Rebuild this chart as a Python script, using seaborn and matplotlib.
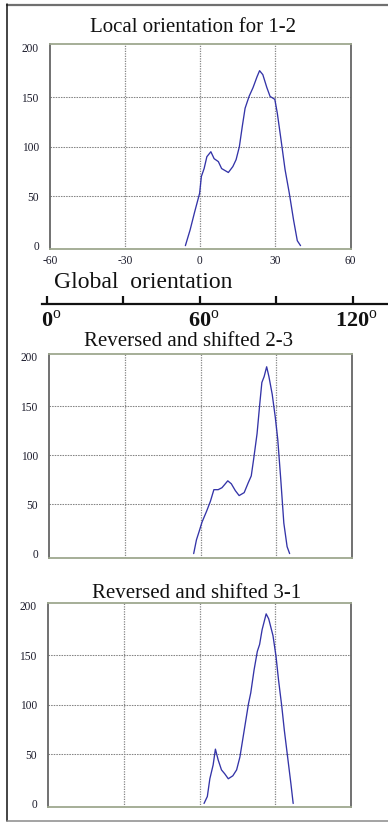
import matplotlib
matplotlib.use("Agg")
import matplotlib.pyplot as plt
from matplotlib.lines import Line2D
import seaborn as sns
import pandas as pd

# Local orientation histogram for pair 1-2 (degrees, counts)
angle_12 = [-5.8, -3.9, -2.1, -0.1, 0.6, 1.7, 2.8, 4.4, 5.7, 7.4, 8.7, 11.4, 13.2,
            14.5, 15.8, 17.0, 18.1, 19.7, 21.3, 22.9, 23.9, 25.2, 26.8, 28.1, 30.0,
            31.0, 32.6, 34.1, 35.8, 37.5, 39.0, 40.3]
count_12 = [0, 16, 34, 53, 70, 78, 90, 95, 88, 85, 78, 74, 80,
            87, 100, 121, 139, 151, 160, 171, 177, 173, 160, 151, 148,
            134, 105, 77, 53, 26, 5, 0]

# Reversed and shifted pair 2-3
angle_23 = [-2.7, -1.6, -0.6, 0.6, 2.4, 3.9, 5.3, 7.0, 8.5, 9.5, 10.8, 12.2, 13.8,
            15.3, 17.3, 18.9, 20.1, 21.1, 22.4, 23.5, 24.3, 25.2, 26.2, 27.1, 28.4,
            29.6, 30.6, 31.8, 33.0, 34.3, 35.3]
count_23 = [0, 14, 22, 32, 43, 53, 65, 65, 67, 70, 74, 71, 64,
            59, 62, 72, 79, 97, 122, 153, 174, 180, 190, 180, 162,
            139, 116, 75, 31, 7, 0]

# Reversed and shifted pair 3-1
angle_31 = [1.8, 3.1, 4.1, 5.4, 6.3, 7.4, 8.7, 10.0, 11.4, 13.2, 14.7, 16.0, 17.7,
            19.4, 20.3, 21.6, 22.9, 23.8, 24.8, 26.4, 27.4, 29.1, 30.3, 31.3, 32.6,
            33.6, 34.9, 36.2, 37.1]
count_31 = [0, 7, 25, 39, 55, 44, 34, 30, 25, 28, 34, 47, 74,
            101, 112, 135, 154, 161, 176, 192, 187, 170, 149, 125, 98,
            74, 47, 20, 0]

titles = ["Local orientation for 1-2", "Reversed and shifted 2-3", "Reversed and shifted 3-1"]
x_ticks = [-60, -30, 0, 30, 60]
y_ticks = [0, 50, 100, 150, 200]
global_ticks = [0, 30, 60, 90, 120]
global_labels = ["0", "60", "120"]

sns.set_style("white")
plt.rcParams["font.family"] = ["Liberation Serif", "DejaVu Serif"]
plt.rcParams["mathtext.fontset"] = "custom"
plt.rcParams["mathtext.rm"] = "Liberation Serif"
plt.rcParams["mathtext.bf"] = "Liberation Serif:bold"
plt.rcParams["axes.unicode_minus"] = False

W, H = 388, 823
fig = plt.figure(figsize=(W / 100, H / 100), dpi=100)
fig.patch.set_facecolor("white")


def px_box(left, top, right, bottom):
    return [left / W, 1 - bottom / H, (right - left) / W, (bottom - top) / H]


line_color = "#3434a8"
text_color = "#1c1c2c"

panels = [
    dict(box=(50, 44, 351, 249), xlim=(-59.5, 60.5), ylim=(-3.4, 204),
         x=angle_12, y=count_12, xlabels=True, title_xy=(193, 31.5)),
    dict(box=(49, 354, 352, 558), xlim=(-58.2, 58.3), ylim=(-4.5, 203),
         x=angle_23, y=count_23, xlabels=False, title_xy=(189, 346.5)),
    dict(box=(48, 603, 351, 807), xlim=(-58.9, 59.1), ylim=(-3.6, 203),
         x=angle_31, y=count_31, xlabels=False, title_xy=(196.5, 597.5)),
]

for p, title in zip(panels, titles):
    ax = fig.add_axes(px_box(*p["box"]))
    df = pd.DataFrame({"angle": p["x"], "count": p["y"]})
    sns.lineplot(data=df, x="angle", y="count", ax=ax, color=line_color,
                 linewidth=0.95, sort=False)
    ax.set_xlim(*p["xlim"])
    ax.set_ylim(*p["ylim"])
    ax.set_xticks(x_ticks)
    ax.set_yticks(y_ticks)
    ax.set_xlabel("")
    ax.set_ylabel("")
    ax.tick_params(length=0, labelsize=8.3, labelcolor=text_color)
    ax.tick_params(axis="y", pad=8)
    ax.tick_params(axis="x", pad=4.5)
    if not p["xlabels"]:
        ax.set_xticklabels([])
    for v in [-30, 0, 30]:
        ax.axvline(v, color="#858585", linestyle=(0, (1, 1)), linewidth=0.9, zorder=0)
    for v in [50, 100, 150]:
        ax.axhline(v, color="#858585", linestyle=(0, (1.5, 1)), linewidth=0.75, zorder=0)
    for side in ("left", "right"):
        ax.spines[side].set_color("#666666")
        ax.spines[side].set_linewidth(1.3)
    for side in ("top", "bottom"):
        ax.spines[side].set_color("#9ea88f")
        ax.spines[side].set_linewidth(1.3)
    tx, ty = p["title_xy"]
    fig.text(tx / W, 1 - ty / H, title, ha="center", va="baseline",
             fontsize=15, color="#111111")

# Global orientation scale between the first and second panels
gax = fig.add_axes([42 / W, 1 - 304 / H, (W - 42) / W, 12 / H])
gax.set_xlim((42 - 47) / 2.55, (W - 47) / 2.55)
gax.set_ylim(0, 1)
for side in ("left", "right", "top"):
    gax.spines[side].set_visible(False)
gax.spines["bottom"].set_color("#111111")
gax.spines["bottom"].set_linewidth(1.6)
gax.set_facecolor("none")
gax.set_yticks([])
gax.set_xticks(global_ticks)
gax.set_xticklabels([])
gax.tick_params(axis="x", direction="in", length=6, width=1.6, color="#111111",
                bottom=True)
for lab in global_labels:
    gax.text(float(lab) + 1.5, -0.55, r"$\mathbf{" + lab + r"}^{\mathrm{o}}$",
             ha="center", va="top", fontsize=16, color="#111111",
             transform=gax.get_xaxis_transform())
fig.text(54 / W, 1 - 288 / H, "Global  orientation", ha="left", va="baseline",
         fontsize=17, color="#111111")

# Page frame
fig.add_artist(Line2D([7 / W, 1], [1 - 4.5 / H, 1 - 4.5 / H], color="#707070",
                      linewidth=1.6, transform=fig.transFigure))
fig.add_artist(Line2D([7 / W, 7 / W], [1 - 4 / H, 1 - 821 / H], color="#111111",
                      linewidth=1.1, transform=fig.transFigure))
fig.add_artist(Line2D([7 / W, 1], [1 - 821 / H, 1 - 821 / H], color="#8a8a8a",
                      linewidth=1.1, transform=fig.transFigure))

fig.savefig("out.png", dpi=100, facecolor="white")
